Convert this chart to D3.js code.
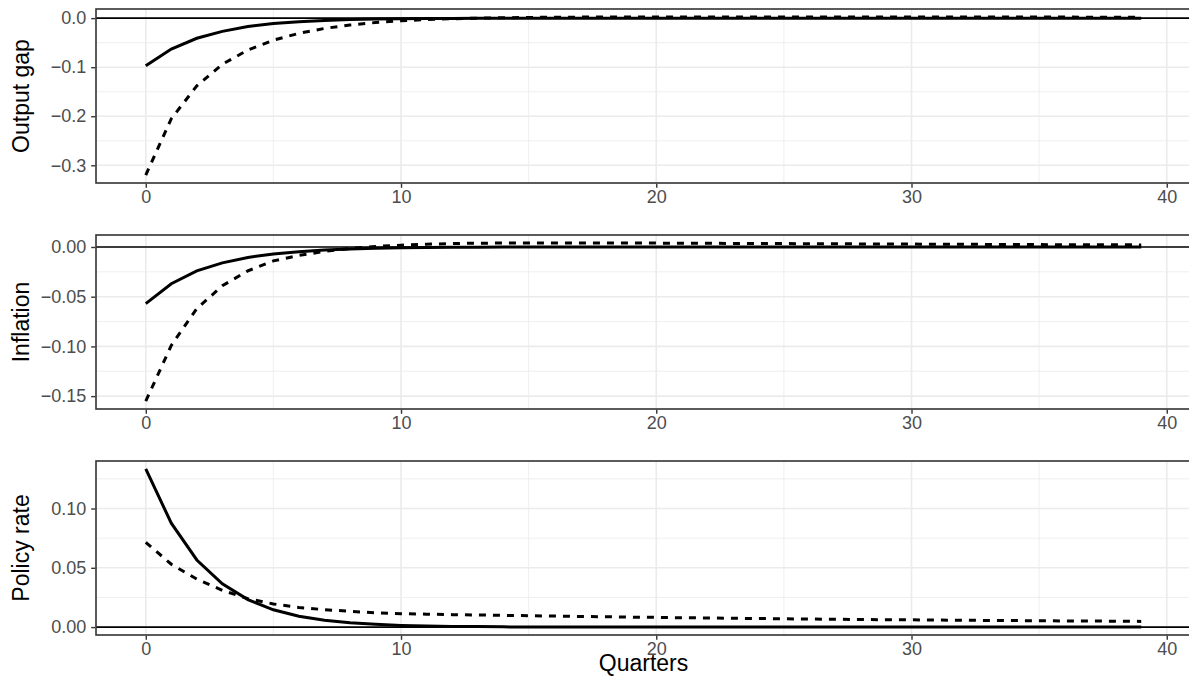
<!DOCTYPE html>
<html><head><meta charset="utf-8">
<script src="https://cdn.jsdelivr.net/npm/d3@7"></script>
<style>
body{margin:0;background:#fff}
svg{display:block}
text{font-family:"Liberation Sans",Arial,Helvetica,sans-serif}
</style>
</head><body>
<svg id="chart" width="1189" height="680"></svg>
<script>
// ---------- data ----------
const quarters = [0,1,2,3,4,5,6,7,8,9,10,11,12,13,14,15,16,17,18,19,20,21,22,23,24,25,26,27,28,29,30,31,32,33,34,35,36,37,38,39];

const outputGapSolid = [-0.097,-0.063,-0.041,-0.027,-0.017,-0.011,-0.0072,-0.0047,-0.003,-0.002,-0.0013,-0.0008,-0.0005,-0.0003,-0.0002,-0.0001,-0.0001,0,0,0,0,0,0,0,0,0,0,0,0,0,0,0,0,0,0,0,0,0,0,0];
const outputGapDashed = [-0.320,-0.205,-0.138,-0.094,-0.065,-0.045,-0.031,-0.021,-0.014,-0.009,-0.0055,-0.003,-0.0012,0.0000,0.0008,0.0014,0.0018,0.0021,0.0023,0.0024,0.0025,0.0025,0.0025,0.0025,0.0025,0.0024,0.0024,0.0024,0.0023,0.0023,0.0023,0.0022,0.0022,0.0022,0.0021,0.0021,0.0021,0.0020,0.0020,0.0020];

const inflationSolid = [-0.057,-0.037,-0.024,-0.016,-0.0105,-0.007,-0.0047,-0.0031,-0.002,-0.0013,-0.0008,-0.0005,-0.0003,-0.0002,-0.0001,0,0,0,0,0,0,0,0,0,0,0,0,0,0,0,0,0,0,0,0,0,0,0,0,0];
const inflationDashed = [-0.155,-0.099,-0.062,-0.039,-0.024,-0.014,-0.0085,-0.0045,-0.0015,0.0005,0.0018,0.0028,0.0034,0.0038,0.0040,0.0041,0.0041,0.0041,0.0040,0.0040,0.0039,0.0038,0.0037,0.0036,0.0035,0.0034,0.0033,0.0032,0.0031,0.0030,0.0029,0.0028,0.0027,0.0026,0.0025,0.0024,0.0023,0.0022,0.0022,0.0021];

const policySolid = [0.1334,0.0876,0.0566,0.0365,0.0232,0.0146,0.0092,0.0057,0.0036,0.0023,0.0014,0.0009,0.0006,0.0004,0.0002,0.0001,0.0001,0,0,0,0,0,0,0,0,0,0,0,0,0,0,0,0,0,0,0,0,0,0,0];
const policyDashed = [0.0715,0.0530,0.0405,0.0310,0.0240,0.0195,0.0165,0.0147,0.0133,0.0121,0.0113,0.0109,0.0105,0.0102,0.0099,0.0096,0.0093,0.0090,0.0087,0.0084,0.0082,0.0079,0.0077,0.0074,0.0072,0.0070,0.0068,0.0066,0.0064,0.0062,0.0061,0.0059,0.0058,0.0056,0.0055,0.0053,0.0052,0.0051,0.0050,0.0048];

const panelTitles = ["Output gap", "Inflation", "Policy rate"];
const yTickValues = [[0,-0.1,-0.2,-0.3],[0,-0.05,-0.10,-0.15],[0,0.05,0.10]];
const yTickLabels = [["0.0","\u22120.1","\u22120.2","\u22120.3"],["0.00","\u22120.05","\u22120.10","\u22120.15"],["0.00","0.05","0.10"]];
const yMinorValues = [[-0.05,-0.15,-0.25],[-0.025,-0.075,-0.125],[0.025,0.075,0.125]];
const xTickValues = [0,10,20,30,40];
const xTickLabels = ["0","10","20","30","40"];
const xMinorValues = [5,15,25,35];
const xTitle = "Quarters";

// ---------- layout ----------
const panels = [
  {solid: outputGapSolid, dashed: outputGapDashed},
  {solid: inflationSolid, dashed: inflationDashed},
  {solid: policySolid, dashed: policyDashed}
];
const tops = [9, 235, 461];
const ph = 174;
const left = 96, right = 1191;
const tickFont = 18, titleFont = 23;

const svg = d3.select("#chart");
const x = d3.scaleLinear().domain([-1.95, 40.95]).range([left, right]);

panels.forEach((p, i) => {
  const top = tops[i], bottom = top + ph;
  const vals = p.solid.concat(p.dashed, [0]);
  const [mn, mx] = d3.extent(vals);
  const pad = (mx - mn) * 0.05;
  const y = d3.scaleLinear().domain([mn - pad, mx + pad]).range([bottom, top]);

  const g = svg.append("g");
  const clipId = "clip" + i;
  svg.append("clipPath").attr("id", clipId).append("rect")
    .attr("x", left).attr("y", top).attr("width", right - left).attr("height", ph);

  const inner = g.append("g").attr("clip-path", `url(#${clipId})`);
  // minor grid
  inner.selectAll(".ymin").data(yMinorValues[i]).join("line")
    .attr("x1", left).attr("x2", right).attr("y1", d => y(d)).attr("y2", d => y(d))
    .attr("stroke", "#EBEBEB").attr("stroke-width", 0.8);
  inner.selectAll(".xmin").data(xMinorValues).join("line")
    .attr("y1", top).attr("y2", bottom).attr("x1", d => x(d)).attr("x2", d => x(d))
    .attr("stroke", "#EBEBEB").attr("stroke-width", 0.8);
  // major grid
  inner.selectAll(".ymaj").data(yTickValues[i]).join("line")
    .attr("x1", left).attr("x2", right).attr("y1", d => y(d)).attr("y2", d => y(d))
    .attr("stroke", "#EBEBEB").attr("stroke-width", 1.6);
  inner.selectAll(".xmaj").data(xTickValues).join("line")
    .attr("y1", top).attr("y2", bottom).attr("x1", d => x(d)).attr("x2", d => x(d))
    .attr("stroke", "#EBEBEB").attr("stroke-width", 1.6);

  const line = d3.line().x((d, k) => x(quarters[k])).y(d => y(d));
  inner.append("path").datum(p.solid).attr("d", line)
    .attr("fill", "none").attr("stroke", "#000").attr("stroke-width", 3);
  inner.append("path").datum(p.dashed).attr("d", line)
    .attr("fill", "none").attr("stroke", "#000").attr("stroke-width", 3)
    .attr("stroke-dasharray", "7,7");
  // zero reference line
  inner.append("line").attr("x1", left).attr("x2", right)
    .attr("y1", y(0)).attr("y2", y(0)).attr("stroke", "#000").attr("stroke-width", 1.6);

  // border
  g.append("rect").attr("x", left).attr("y", top).attr("width", right - left).attr("height", ph)
    .attr("fill", "none").attr("stroke", "#333333").attr("stroke-width", 1.6);

  // y axis
  const ya = g.append("g").attr("transform", `translate(${left - 0.8},0)`)
    .call(d3.axisLeft(y).tickValues(yTickValues[i])
      .tickFormat((d, k) => yTickLabels[i][k]).tickSize(4).tickPadding(5));
  ya.select(".domain").remove();
  ya.selectAll(".tick line").attr("stroke", "#333333").attr("stroke-width", 1.4);
  ya.selectAll(".tick text").attr("fill", "#4D4D4D").style("font-size", tickFont + "px")
    .style("font-family", '"Liberation Sans",Arial,sans-serif');

  // x axis
  const xa = g.append("g").attr("transform", `translate(0,${bottom + 0.8})`)
    .call(d3.axisBottom(x).tickValues(xTickValues)
      .tickFormat((d, k) => xTickLabels[k]).tickSize(4).tickPadding(2));
  xa.select(".domain").remove();
  xa.selectAll(".tick line").attr("stroke", "#333333").attr("stroke-width", 1.4);
  xa.selectAll(".tick text").attr("fill", "#4D4D4D").style("font-size", tickFont + "px")
    .style("font-family", '"Liberation Sans",Arial,sans-serif');

  // y title
  svg.append("text")
    .attr("transform", `translate(28.5,${top + ph / 2}) rotate(-90)`)
    .attr("text-anchor", "middle").attr("fill", "#000")
    .style("font-size", titleFont + "px")
    .text(panelTitles[i]);
});

svg.append("text").attr("x", (left + right) / 2).attr("y", 671)
  .attr("text-anchor", "middle").attr("fill", "#000")
  .style("font-size", titleFont + "px").text(xTitle);
</script>
</body></html>
